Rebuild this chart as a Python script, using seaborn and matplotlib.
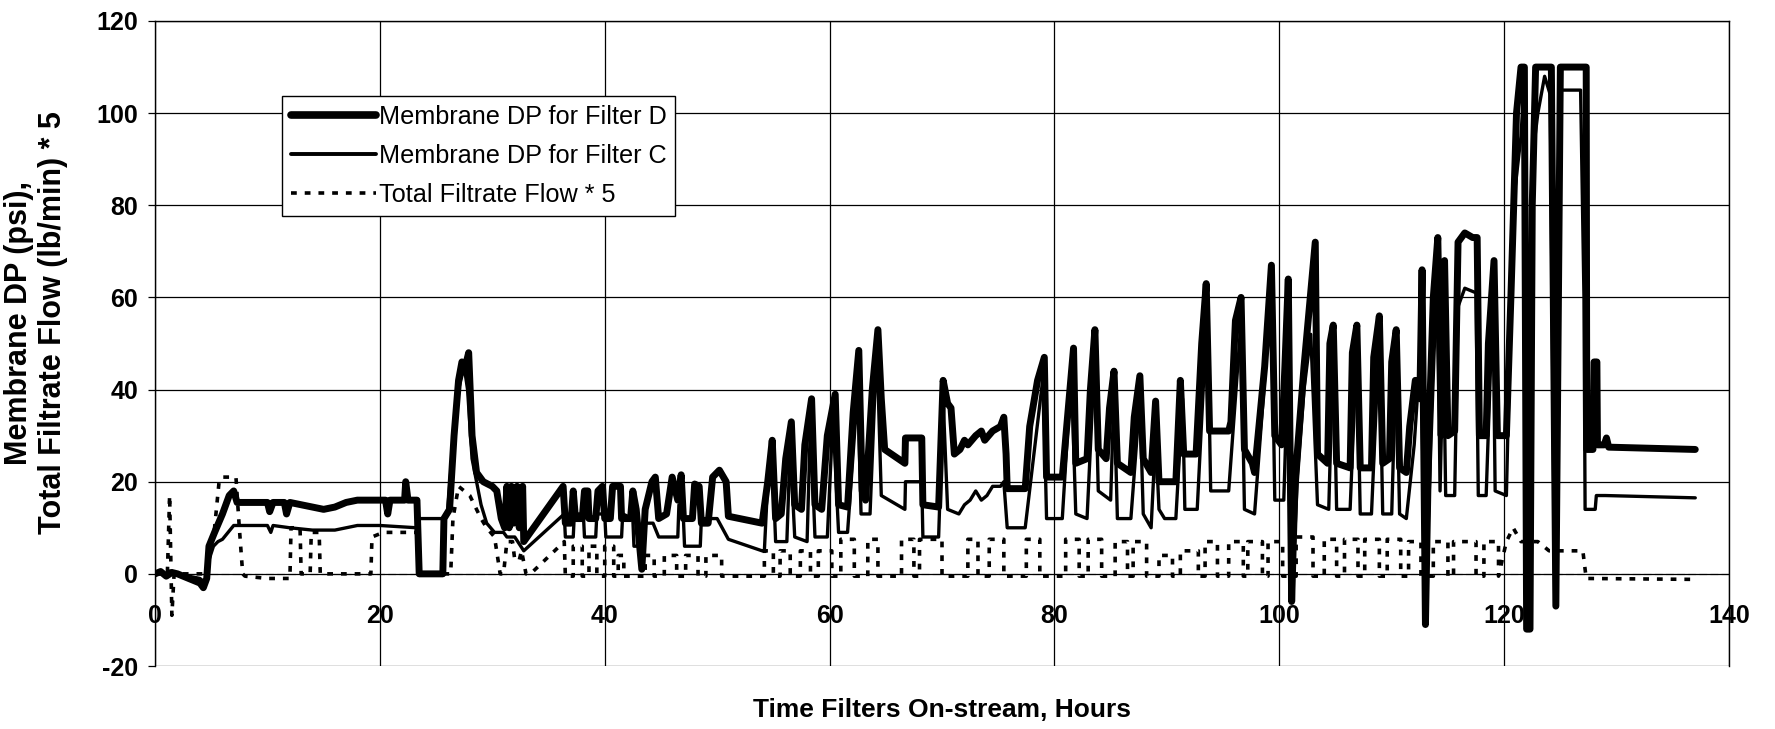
import numpy as np
import pandas as pd
import matplotlib
matplotlib.use("Agg")
import matplotlib.pyplot as plt
import seaborn as sns
from matplotlib.lines import Line2D

# ---------------- data ----------------
# Membrane DP for Filter D (psi)
d_x = [0, 0.5, 1, 1.5, 2, 2.5, 3, 3.5, 4, 4.3, 4.6, 4.8, 5.3, 6, 6.6, 7, 7.3, 8, 10, 10.2, 10.5, 11.5,
       11.7, 12, 13, 14, 15, 16, 17, 18, 20,
       20.5, 20.7, 20.9, 22.2, 22.3, 22.5, 23.3, 23.5, 25.6, 25.7, 26.2, 26.6, 27, 27.3, 27.6, 27.9, 28.2,
       28.6, 29.2, 30, 30.4, 30.8, 31.1, 31.3, 31.5, 31.7, 31.9, 32.2, 32.4, 32.7, 32.8, 36.3, 36.5, 37,
       37.2, 37.4, 38, 38.2, 38.5, 38.6, 39.2, 39.4, 39.8, 40,
       40.5, 40.7, 41.4, 41.5, 42.3, 42.5, 42.8, 43.3, 43.6, 44.2, 44.5, 44.8, 45.5, 46, 46.5, 46.8, 47,
       47.8, 48, 48.4, 48.6, 49.2, 49.6, 50.2, 50.8, 51, 54, 54.5, 54.9, 55.2, 55.7, 56.1, 56.6, 56.9,
       57.5, 57.8, 58.4, 58.7, 59.3, 59.8, 60.5, 60.8, 61.6,
       62.1, 62.6, 62.9, 63.2, 63.8, 64.3, 64.6, 64.9, 66.7, 66.75, 68.2, 68.3, 69.7, 70.1, 70.5, 70.8,
       71.1, 71.6, 72, 72.3, 73, 73.5, 73.8, 74.5, 75.2, 75.5, 75.7, 75.8, 77.4, 77.8, 78.5, 79.1, 79.3,
       80.7,
       81.2, 81.7, 81.9, 82.9, 83.2, 83.6, 83.9, 84.6, 84.9, 85.3, 85.6, 86.8, 87.1, 87.6, 87.9, 88.6,
       89.0, 89.3, 90.8, 91.2, 91.5, 92.6, 93.1, 93.5, 93.8, 95.5, 95.7, 96.1, 96.6, 96.9, 97.6, 97.8,
       98.7, 99.3, 99.6, 100.2, 100.5, 100.8, 101.1, 101.4, 102.2, 103.2, 103.4, 104.3, 104.5, 104.8,
       105.1, 106.3, 106.5, 106.9, 107.2, 108.2, 108.4, 108.9, 109.2, 109.8, 110, 110.4, 110.7, 111.3,
       111.6, 112.1, 112.5, 112.7, 113.0, 113.3, 113.7, 114.1, 114.4, 114.7, 115, 115.6, 115.9, 116.5,
       117.2, 117.6, 117.8, 118.4, 118.6, 119.1, 119.4, 120.2, 120.6, 121.1, 121.5, 121.8, 122.0, 122.3,
       122.5, 122.8, 124.2, 124.6, 125.0, 127.3, 127.35, 127.9, 128.0, 128.25, 128.3, 128.9, 129.1,
       129.3, 137]
d_y = [0, 0.5, -0.5, 0.3, 0, -0.5, -1, -1.5, -2, -3, -1, 6, 9, 13, 17, 18, 15.5, 15.5, 15.5, 13.5, 15.5, 15.5,
       13, 15.5, 15, 14.5, 14, 14.5, 15.5, 16, 16,
       16, 13, 16, 16, 20, 16, 16, 0, 0, 12, 14, 30, 42, 46, 45, 48, 30,
       22, 20, 19, 18, 12, 10, 19, 10, 19, 11, 19, 10, 19, 7, 19, 11, 11,
       18, 12, 12, 18, 18, 12, 12, 18, 19, 12,
       12, 19, 19, 12, 12, 18, 14, 1, 14, 20, 21, 12, 13, 21, 16, 21.5, 12,
       12, 19.5, 19, 11, 11, 21, 22.5, 20, 12.5, 11, 20, 29, 12, 13, 25, 33, 15,
       14, 28, 38, 15, 14, 30, 39, 15, 14.5,
       35, 48.5, 18, 16, 40, 53, 38, 27, 24, 29.5, 29.5, 15, 14.5, 42, 37, 36,
       26, 27, 29, 28, 30, 31, 29, 31, 32, 34, 26, 18.5, 18.5, 32, 42, 47, 21,
       21,
       35, 49, 24, 25, 40, 53, 27, 25, 36, 44, 24, 22, 34, 43, 25, 22,
       37.5, 20, 20, 42, 26, 26, 50, 63, 31, 31, 33, 55, 60, 27, 24, 22,
       45, 67, 30, 28, 45, 64, -6, 20, 45, 72, 26, 24, 50, 54,
       24, 23, 48, 54, 23, 23, 47, 56, 24, 25, 46, 53, 23, 22,
       32, 42, 38, 66, -11, 30, 60, 73, 30, 68, 30, 31, 72, 74,
       73, 73, 30, 30, 50, 68, 30, 30, 60, 100, 110, 110, -12, -12,
       80, 110, 110, -7, 110, 110, 27, 27, 46, 46, 28, 28, 29.5,
       27.5, 27]

# Membrane DP for Filter C (psi)
c_x = [0, 1, 2, 3, 4, 4.5, 4.8, 5.2, 5.6, 6, 6.5, 7, 8, 10, 10.3, 10.5, 12, 14, 16, 18, 20,
       23.3, 23.4, 25.6, 26, 26.5, 27, 27.5, 27.8, 28.2, 29, 29.5, 30.2, 31, 31.3, 32, 32.8, 36.4, 36.5,
       37.2, 37.3, 38.1, 38.2, 39.2, 39.3, 40, 40.1, 41.5, 41.6, 42.5, 42.6, 43.5, 43.6, 44.3, 44.8,
       46.5, 46.6, 47, 47.1, 48.5, 48.6, 50, 51, 54, 54.2, 54.5, 54.9, 55.2, 56.2, 56.5, 56.9, 58, 58.3,
       58.7, 59.8, 60.3, 60.8, 61.6, 62.5, 62.8, 63.6, 64.2, 64.6, 66.7, 66.75, 68.2, 68.3, 69.7, 70.1,
       70.5, 71.5, 72, 72.5, 73, 73.5, 74, 74.5, 75.2, 75.5, 75.8, 77.4, 79, 79.3, 80.7, 81.5, 81.9,
       82.9, 83.6, 83.9, 85, 85.3, 85.6, 86.8, 87.6, 87.9, 88.6, 89.0, 89.3, 89.8, 90.8, 91.4, 91.6,
       92.7, 93.6, 93.9, 95.5, 96.6, 96.9, 97.8, 99.3, 99.6, 100.4, 100.7, 101.1, 101.6, 102.2, 102.8,
       103.4, 104.4, 104.8, 105.1, 106.3, 106.9, 107.2, 108.2, 108.9, 109.2, 110, 110.4, 110.7, 111.3,
       112, 112.6, 113, 113.3, 113.8, 114.1, 114.3, 114.6, 114.8, 115.6, 115.9, 116.5, 117.5, 117.7,
       118.4, 119, 119.2, 120.2, 120.8, 121.5, 121.8, 122.0, 122.3, 122.5, 123, 123.6, 124.1, 124.5,
       124.9, 126.8, 127.1, 127.2, 128.1, 128.2, 129, 137]
c_y = [0, 0, 0, -0.5, -1, -2, 3, 6, 7, 7.5, 9, 10.5, 10.5, 10.5, 9, 10.5, 10, 9.5, 9.5, 10.5, 10.5,
       10, 12, 12, 13, 28, 40, 45, 40, 25, 15, 11, 9, 9, 8, 8, 5, 13, 8,
       8, 13, 13, 8, 8, 13, 13, 8, 8, 13, 12, 6, 6, 11, 11, 8,
       8, 15, 12, 6, 6, 12, 12, 7.5, 5, 5, 20, 26, 7, 7, 28, 8, 7, 33,
       8, 8, 34, 9, 9, 40, 13, 13, 50, 17, 14, 20, 20, 8, 8, 38,
       14, 13, 15, 16, 18, 16, 17, 19, 19, 20, 10, 10, 43, 12, 12, 44, 13,
       12, 48, 18, 16, 40, 12, 12, 38, 13, 10, 30, 14, 12, 12, 38, 14,
       14, 58, 18, 18, 55, 14, 13, 62, 16, 16, 40, -6, 20, 40, 52,
       15, 14, 50, 14, 14, 50, 13, 13, 52, 13, 13, 48, 13, 12,
       28, 50, -11, 15, 50, 60, 18, 50, 17, 17, 58, 62, 61, 17,
       17, 60, 18, 17, 80, 95, 108, -10, -10, 90, 100, 108, 104, -6,
       105, 105, 60, 14, 14, 17, 17, 16.5]

# Total Filtrate Flow * 5 : explicit trace for the first hours, then on/off pulses (start, end, level)
f_x0 = [0, 1.1, 1.3, 1.5, 1.7, 4.6, 5.3, 5.7, 6, 7.2, 7.5, 7.8, 8, 10, 12, 12.1, 12.9, 13, 13.8, 13.9,
        14.6, 14.7, 19.2, 19.3, 20.3, 23.3, 23.5, 26.3, 26.5, 27, 28, 29, 29.5, 30.2, 30.7, 31, 31.3,
        31.8, 32, 32.4, 32.6, 33, 33.4, 36.4, 36.5]
f_y0 = [0, 0, 17, -9, 0, 0, 10, 20, 21, 21, 10, 0, -0.5, -1, -1, 10, 10, 0, 0, 9,
        9, 0, 0, 8, 9, 9, 0, 0, 12, 19, 17, 12, 10, 8, 0, 0, 7,
        7, 3, 3, 5, 0, 0, 7, -0.5]
flow_pulses = [(37.2, 38.0, 6), (38.6, 39.3, 6), (40.0, 40.8, 6), (41.2, 41.7, 4), (43.6, 44.4, 4),
               (45.3, 46.4, 4), (47.2, 48.3, 4), (49.0, 50.4, 4), (54.2, 55.0, 5), (55.6, 56.5, 5),
               (57.4, 58.3, 5), (59.0, 60.2, 5), (61.0, 62.2, 7.5), (63.4, 64.3, 7.5),
               (66.4, 67.5, 7.5), (68.0, 70.0, 7.5), (72.3, 73.2, 7.5), (74.2, 75.5, 7.5),
               (77.5, 78.7, 7.5), (81.0, 82.2, 7.5), (83.0, 84.2, 7.5), (85.4, 86.5, 7),
               (87.0, 88.2, 7), (89.3, 90.5, 4), (91.2, 92.8, 5), (93.4, 94.5, 7), (95.5, 96.8, 7),
               (97.2, 98.5, 7), (99.0, 100.3, 7), (101.5, 103.0, 8), (104.0, 105.1, 7.5),
               (105.8, 107.0, 7.5), (107.6, 108.9, 7.5), (109.6, 110.8, 7.5), (111.5, 112.6, 7),
               (113.7, 115.0, 7), (115.5, 117.5, 7), (118.2, 119.5, 7)]
flow_off = -0.5
f_x1 = [120.2, 120.8, 121.5, 123.0, 124.0, 127.0, 127.3, 137]
f_y1 = [7, 10, 7, 7, 5, 5, -1, -1.2]

labels = ["Membrane DP for Filter D", "Membrane DP for Filter C", "Total Filtrate Flow * 5"]
x_ticks = [0, 20, 40, 60, 80, 100, 120, 140]
y_ticks = [-20, 0, 20, 40, 60, 80, 100, 120]

# ---------------- build tables ----------------
fx, fy = list(f_x0), list(f_y0)
for s, e, lv in flow_pulses:
    fx += [s, s, e, e]
    fy += [flow_off, lv, lv, flow_off]
fx += f_x1
fy += f_y1

df_d = pd.DataFrame({"t": d_x, "v": d_y})
df_c = pd.DataFrame({"t": c_x, "v": c_y})
df_f = pd.DataFrame({"t": fx, "v": fy})

# ---------------- plot ----------------
sns.set_theme(style="white")
plt.rcParams["font.family"] = ["Liberation Sans", "DejaVu Sans"]

fig = plt.figure(figsize=(17.75, 7.29), dpi=100)
ax = fig.add_axes([155 / 1775, 1 - 666 / 729, 1574 / 1775, 645 / 729])

sns.lineplot(data=df_f, x="t", y="v", ax=ax, estimator=None, sort=False, color="black",
             linewidth=2.6, linestyle=(0, (1.6, 2.2)))
sns.lineplot(data=df_c, x="t", y="v", ax=ax, estimator=None, sort=False, color="black",
             linewidth=2.4)
sns.lineplot(data=df_d, x="t", y="v", ax=ax, estimator=None, sort=False, color="black",
             linewidth=5.0)

# axis line at zero (dashed), set before tick formatting since it resets ticks
ax.spines["bottom"].set_position(("data", 0))
ax.spines["bottom"].set_linestyle((0, (6, 4)))
ax.spines["bottom"].set_linewidth(0.8)
ax.spines["bottom"].set_color("black")
for side in ["left", "right", "top"]:
    ax.spines[side].set_color("black")
    ax.spines[side].set_linewidth(1.0)

ax.set_xlim(0, 140)
ax.set_ylim(-20, 120)
ax.set_xticks(x_ticks)
ax.set_yticks(y_ticks)
ax.set_xticklabels([str(v) for v in x_ticks])
ax.set_yticklabels([str(v) for v in y_ticks])
ax.tick_params(axis="x", length=0, pad=22, colors="black", labelsize=18)
ax.tick_params(axis="y", length=5, width=0.9, direction="out", pad=7, colors="black", left=True,
               labelsize=18)
for lab in ax.get_xticklabels() + ax.get_yticklabels():
    lab.set_fontweight("bold")
ax.grid(True, color="black", linewidth=0.9)
ax.set_axisbelow(True)

ax.set_xlabel("Time Filters On-stream, Hours", fontsize=19, fontweight="bold", color="black")
ax.xaxis.set_label_coords(0.5, -0.05)
ax.set_ylabel("Membrane DP (psi),\nTotal Filtrate Flow (lb/min) * 5", fontsize=22,
              fontweight="bold", color="black", linespacing=1.2)
ax.yaxis.set_label_coords(-0.055, 0.532)

handles = [Line2D([], [], color="black", linewidth=5.5),
           Line2D([], [], color="black", linewidth=2.8),
           Line2D([], [], color="black", linewidth=2.6, linestyle=(0, (1.6, 2.2)))]
leg = ax.legend(handles, labels, loc="upper left", bbox_to_anchor=(0.081, 0.884),
                borderaxespad=0, fontsize=18.2, frameon=True, fancybox=False, framealpha=1,
                edgecolor="black", handlelength=3.35, handletextpad=0.1, labelspacing=0.6,
                borderpad=0.35)
leg.get_frame().set_linewidth(1.0)
for t in leg.get_texts():
    t.set_color("black")

fig.savefig("out.png", dpi=100)
